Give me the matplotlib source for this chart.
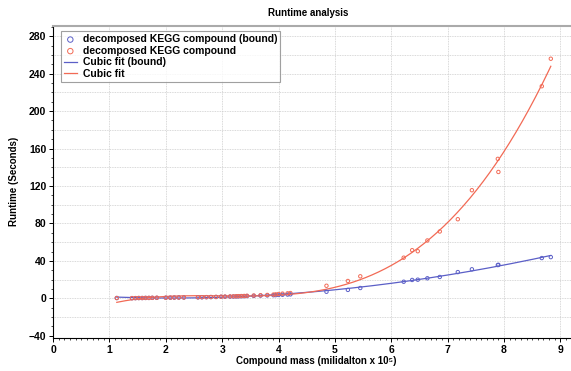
import numpy as np
import matplotlib
matplotlib.use("Agg")
import matplotlib.pyplot as plt
from matplotlib.ticker import MultipleLocator

# --- data (mass in milidalton x 10^5, runtime in s) ---
mass_low = [1.13, 1.40, 1.46, 1.52, 1.58, 1.64, 1.70, 1.76, 1.84, 2.00,
            2.08, 2.15, 2.23, 2.32, 2.57, 2.64, 2.72, 2.80, 2.89, 2.98,
            3.05, 3.14, 3.20, 3.25, 3.29, 3.34, 3.39, 3.44, 3.56, 3.68,
            3.80, 3.91, 3.95, 4.00, 4.07, 4.16, 4.21]
rt_low_bound = [0.3, 0.2, 0.2, 0.3, 0.3, 0.4, 0.4, 0.5, 0.5, 0.6,
                0.6, 0.7, 0.8, 0.8, 1.0, 1.1, 1.2, 1.3, 1.4, 1.6,
                1.7, 1.8, 1.9, 2.0, 2.1, 2.2, 2.3, 2.4, 2.6, 2.9,
                3.1, 3.3, 3.4, 3.6, 3.8, 4.0, 4.2]
rt_low_free = [0.3, 0.2, 0.2, 0.3, 0.3, 0.4, 0.4, 0.5, 0.6, 0.6,
               0.7, 0.8, 0.8, 0.9, 1.1, 1.2, 1.3, 1.4, 1.5, 1.7,
               1.8, 2.0, 2.1, 2.2, 2.3, 2.4, 2.5, 2.7, 3.0, 3.3,
               3.6, 4.0, 4.2, 4.6, 5.0, 5.3, 5.6]

mass_high = [4.85, 5.23, 5.45, 6.22, 6.37, 6.47, 6.64, 6.86, 7.18, 7.43,
             7.89, 7.90, 8.67, 8.83]
rt_high_bound = [7.0, 9.0, 11.0, 17.7, 19.6, 19.9, 21.4, 22.8, 28.0, 31.0,
                 35.5, 35.8, 43.0, 44.0]
rt_high_free = [13.4, 18.5, 23.5, 43.4, 51.4, 50.3, 61.8, 71.4, 84.5, 115.5,
                149.0, 135.0, 226.6, 256.0]

mass = np.array(mass_low + mass_high)
rt_bound = np.array(rt_low_bound + rt_high_bound)
rt_free = np.array(rt_low_free + rt_high_free)

# cubic fits
fit_bound = np.poly1d(np.polyfit(mass, rt_bound, 3))
fit_free = np.poly1d(np.polyfit(mass, rt_free, 3))
xs = np.linspace(mass.min(), mass.max(), 200)

blue = "#5b5fc7"
red = "#f26a55"

plt.rcParams["font.family"] = ["Liberation Sans", "DejaVu Sans"]

fig = plt.figure(figsize=(5.71, 3.71), dpi=100)
ax = fig.add_axes([0.093, 0.09, 0.92, 0.84])

ax.scatter(mass, rt_bound, s=6, facecolors="none", edgecolors=blue, linewidths=0.7,
           label="decomposed KEGG compound (bound)", zorder=3)
ax.scatter(mass, rt_free, s=6, facecolors="none", edgecolors=red, linewidths=0.7,
           label="decomposed KEGG compound", zorder=3)
ax.plot(xs, fit_bound(xs), color=blue, lw=0.9, label="Cubic fit (bound)")
ax.plot(xs, fit_free(xs), color=red, lw=0.9, label="Cubic fit")

ax.set_xlim(0, 9.32)
ax.set_ylim(-42, 291)
ax.xaxis.set_major_locator(MultipleLocator(1))
ax.xaxis.set_minor_locator(MultipleLocator(0.1))
ax.yaxis.set_major_locator(MultipleLocator(40))
ax.yaxis.set_minor_locator(MultipleLocator(10))

# grid: vertical at each integer, horizontal every 20
for gx in range(1, 10):
    ax.axvline(gx, color="#cccccc", lw=0.6, ls=(0, (1, 1)), zorder=0)
for gy in range(-20, 291, 20):
    ax.axhline(gy, color="#cccccc", lw=0.6, ls=(0, (1, 1)), zorder=0)

ax.spines["right"].set_visible(False)
ax.spines["top"].set_color("#aaaaaa")
ax.spines["top"].set_linewidth(1.5)
ax.spines["left"].set_linewidth(0.8)
ax.spines["bottom"].set_linewidth(0.8)

ax.tick_params(which="major", length=3, width=0.7, labelsize=7.5, pad=2)
ax.tick_params(which="minor", length=1.5, width=0.5)
for lab in ax.get_xticklabels() + ax.get_yticklabels():
    lab.set_fontweight("bold")

ax.set_xlabel("Compound mass (milidalton x 10\u2075)", fontsize=7, fontweight="bold", labelpad=1)
ax.set_ylabel("Runtime (Seconds)", fontsize=7, fontweight="bold", labelpad=7)
fig.text(0.54, 0.965, "Runtime analysis", ha="center", va="center", fontsize=7, fontweight="bold")

leg = ax.legend(loc="upper left", fontsize=7.5, frameon=True, fancybox=False,
                edgecolor="#888888", borderpad=0.3, handlelength=1.2,
                handletextpad=0.6, labelspacing=0.15, markerscale=1.6,
                bbox_to_anchor=(0.005, 1.0))
leg.get_frame().set_linewidth(0.8)
for t in leg.get_texts():
    t.set_fontweight("bold")

fig.savefig("out.png", dpi=100)
